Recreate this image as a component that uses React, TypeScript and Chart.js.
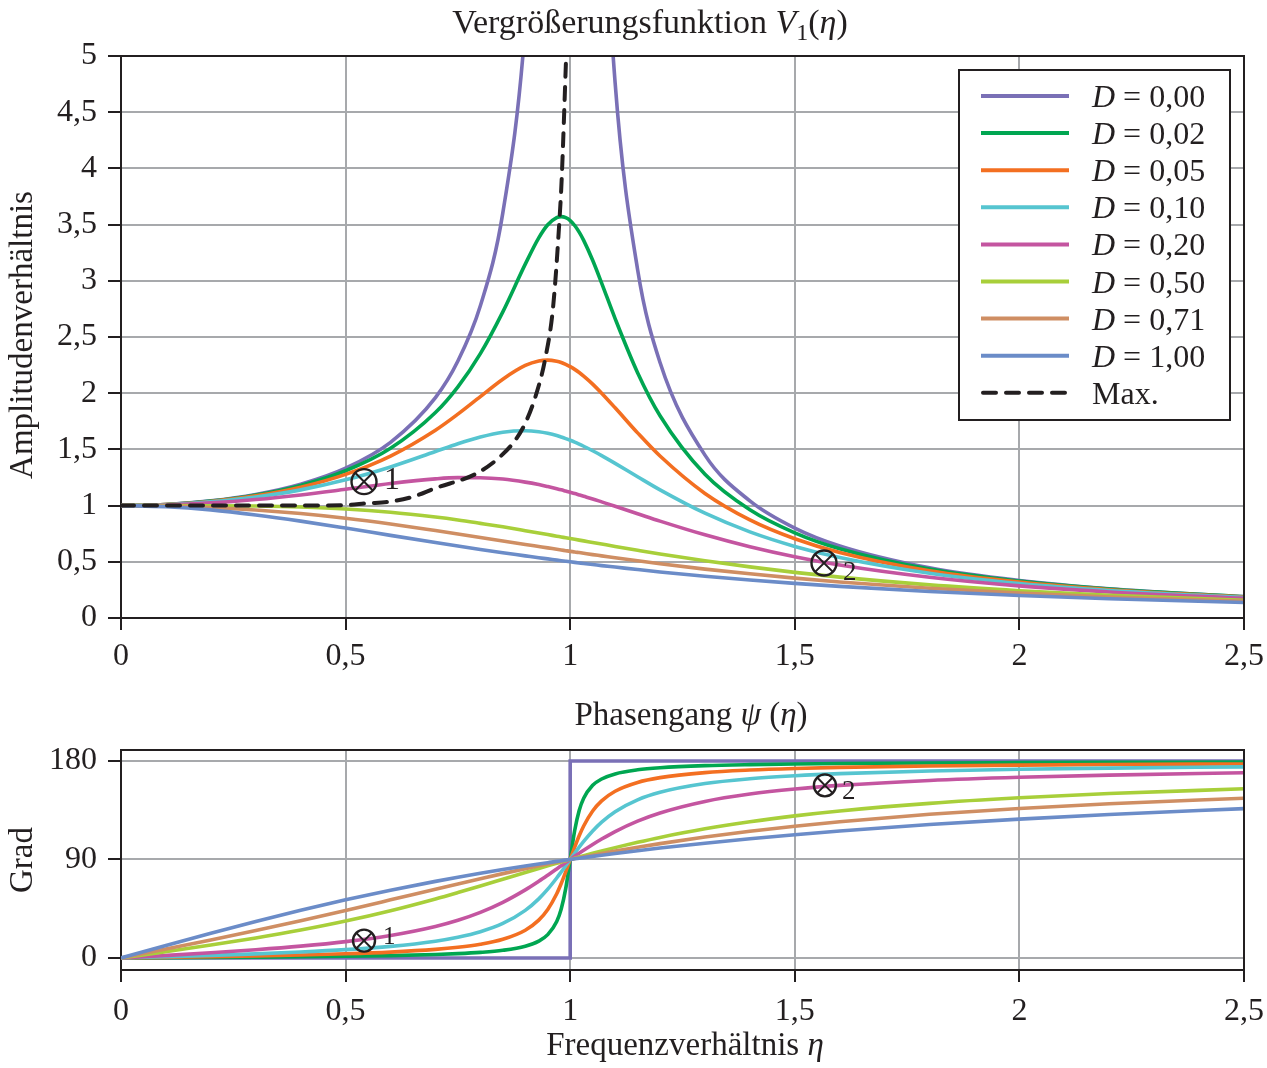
import { useEffect, useRef } from 'react';
import Chart from 'chart.js/auto';

// frequency ratio samples shared by the damped curves
const ETA = [0, 0.1, 0.2, 0.3, 0.4, 0.5, 0.6, 0.7, 0.75, 0.8, 0.85, 0.9, 0.93, 0.95, 0.97, 0.98, 0.99, 1.0, 1.01, 1.02, 1.03, 1.05, 1.07, 1.1, 1.15, 1.2, 1.3, 1.4, 1.5, 1.6, 1.8, 2.0, 2.2, 2.5];

const DAMPING_LABELS = ['0,00', '0,02', '0,05', '0,10', '0,20', '0,50', '0,71', '1,00'];
const COLORS = ['#7a70b6', '#00a651', '#f36f21', '#56c5d0', '#c455a0', '#a8cf3a', '#cf8e63', '#6b8cc8'];

// amplitude ratio V1
const AMP_000 = [1, 1.010, 1.042, 1.099, 1.190, 1.333, 1.563, 1.961, 2.286, 2.778, 3.604, 5.263, 7.402, 10.26, 16.92, 25.25, 50.25, null, 49.75, 24.75, 16.42, 9.756, 6.901, 4.762, 3.101, 2.273, 1.449, 1.042, 0.800, 0.641, 0.446, 0.333, 0.260, 0.190];
const AMP_002 = [1, 1.010, 1.040, 1.094, 1.180, 1.310, 1.510, 1.828, 2.057, 2.352, 2.724, 3.148, 3.382, 3.499, 3.563, 3.571, 3.562, 3.536, 3.492, 3.433, 3.360, 3.183, 2.980, 2.664, 2.183, 1.800, 1.279, 0.963, 0.758, 0.616, 0.435, 0.328, 0.257, 0.189];
const AMP_005 = [1, 1.009, 1.037, 1.087, 1.164, 1.278, 1.441, 1.671, 1.814, 1.970, 2.125, 2.247, 2.287, 2.294, 2.284, 2.273, 2.256, 2.236, 2.212, 2.184, 2.152, 2.081, 2.000, 1.870, 1.647, 1.441, 1.108, 0.873, 0.705, 0.583, 0.420, 0.319, 0.252, 0.186];
const AMP_010 = [1, 1.008, 1.033, 1.076, 1.140, 1.229, 1.344, 1.481, 1.550, 1.610, 1.653, 1.666, 1.657, 1.643, 1.623, 1.610, 1.596, 1.581, 1.565, 1.547, 1.528, 1.488, 1.445, 1.376, 1.257, 1.140, 0.932, 0.766, 0.637, 0.538, 0.398, 0.307, 0.245, 0.182];
const AMP_020 = [1, 1.006, 1.024, 1.054, 1.095, 1.145, 1.197, 1.238, 1.249, 1.248, 1.236, 1.209, 1.187, 1.169, 1.150, 1.140, 1.129, 1.118, 1.107, 1.095, 1.083, 1.059, 1.033, 0.994, 0.928, 0.862, 0.740, 0.634, 0.545, 0.472, 0.363, 0.286, 0.232, 0.175];
const AMP_050 = [1, 1.000, 0.999, 0.996, 0.987, 0.970, 0.941, 0.898, 0.872, 0.842, 0.811, 0.777, 0.756, 0.742, 0.728, 0.721, 0.714, 0.707, 0.700, 0.693, 0.686, 0.672, 0.658, 0.637, 0.603, 0.570, 0.509, 0.455, 0.406, 0.364, 0.295, 0.243, 0.202, 0.158];
const AMP_071 = [1, 0.996, 0.983, 0.961, 0.929, 0.887, 0.836, 0.778, 0.748, 0.717, 0.685, 0.654, 0.636, 0.624, 0.611, 0.605, 0.599, 0.593, 0.588, 0.582, 0.576, 0.564, 0.553, 0.536, 0.509, 0.483, 0.435, 0.393, 0.355, 0.321, 0.265, 0.222, 0.187, 0.149];
const AMP_100 = [1, 0.990, 0.962, 0.917, 0.862, 0.800, 0.735, 0.671, 0.640, 0.610, 0.581, 0.553, 0.536, 0.526, 0.515, 0.510, 0.505, 0.500, 0.495, 0.490, 0.485, 0.476, 0.466, 0.453, 0.431, 0.410, 0.372, 0.338, 0.308, 0.281, 0.236, 0.200, 0.171, 0.138];

// dashed "Max." curve
const MAX_ETA = [0, 0.2, 0.4, 0.5, 0.547, 0.599, 0.651, 0.699, 0.792, 0.844, 0.881, 0.903, 0.925, 0.944, 0.962, 0.977, 0.981, 0.991];
const MAX_AMP = [1.0, 1.0, 1.0, 1.005, 1.02, 1.035, 1.08, 1.154, 1.287, 1.435, 1.6, 1.76, 2.0, 2.3, 2.77, 3.6, 3.9, 5.0];

// phase angle in degrees (lower plot)
const PHASE_000_ETA = [0, 1, 1, 2.5];
const PHASE_000 = [0, 0, 180, 180];
const PHASE_002 = [0, 0.23, 0.48, 0.76, 1.09, 1.53, 2.15, 3.14, 3.92, 5.08, 6.99, 10.73, 15.40, 21.29, 33.29, 44.71, 63.32, 90, 116.45, 134.72, 145.92, 157.72, 163.54, 168.17, 171.88, 173.77, 175.69, 176.66, 177.25, 177.65, 178.16, 178.47, 178.69, 178.91];
const PHASE_005 = [0, 0.58, 1.19, 1.89, 2.73, 3.81, 5.36, 7.82, 9.73, 12.53, 17.03, 25.35, 34.54, 44.26, 58.64, 68.00, 78.64, 90, 101.25, 111.61, 120.59, 134.31, 143.56, 152.35, 160.37, 164.74, 169.33, 171.70, 173.16, 174.14, 175.41, 176.19, 176.72, 177.27];
const PHASE_010 = [0, 1.16, 2.39, 3.77, 5.44, 7.60, 10.62, 15.35, 18.92, 23.96, 31.49, 43.45, 54.00, 62.84, 73.06, 78.58, 84.26, 90, 95.68, 101.20, 106.47, 116.01, 124.10, 133.67, 144.51, 151.39, 159.35, 163.74, 166.50, 168.41, 170.87, 172.41, 173.46, 174.56];
const PHASE_020 = [0, 2.31, 4.76, 7.51, 10.78, 14.93, 20.56, 28.77, 34.44, 41.63, 50.79, 62.18, 70.04, 75.61, 81.34, 84.23, 87.12, 90, 92.85, 95.65, 98.41, 103.71, 108.70, 115.51, 125.04, 132.51, 143.00, 149.74, 154.36, 157.69, 162.18, 165.07, 167.09, 169.22];
const PHASE_050 = [0, 5.77, 11.77, 18.25, 25.46, 33.69, 43.15, 53.92, 59.74, 65.77, 71.92, 78.08, 81.73, 84.14, 86.51, 87.69, 88.85, 90, 91.14, 92.27, 93.38, 95.58, 97.71, 100.81, 105.66, 110.14, 117.96, 124.44, 129.81, 134.28, 141.22, 146.31, 150.19, 154.54];
const PHASE_071 = [0, 8.16, 16.48, 25.09, 34.07, 43.43, 53.09, 62.84, 67.66, 72.42, 77.05, 81.54, 84.16, 85.87, 87.54, 88.37, 89.19, 90, 90.80, 91.60, 92.38, 93.93, 95.45, 97.66, 101.17, 104.48, 110.49, 115.78, 120.41, 124.47, 131.23, 136.57, 140.87, 145.93];
const PHASE_100 = [0, 11.42, 22.62, 33.40, 43.60, 53.13, 61.93, 69.98, 73.74, 77.32, 80.73, 83.97, 85.85, 87.06, 88.26, 88.84, 89.42, 90, 90.57, 91.13, 91.69, 92.79, 93.87, 95.45, 97.98, 100.39, 104.86, 108.92, 112.62, 115.99, 121.89, 126.87, 131.11, 136.40];

const X_TICKS = [0, 0.5, 1, 1.5, 2, 2.5];
const AMP_TICKS = [0, 0.5, 1, 1.5, 2, 2.5, 3, 3.5, 4, 4.5, 5];
const PHASE_TICKS = [0, 90, 180];

// the two marked operating points
const AMP_MARKS = [
  { eta: 0.541, value: 1.213, label: '1' },
  { eta: 1.565, value: 0.489, label: '2' },
];
const PHASE_MARKS = [
  { eta: 0.541, value: 15.8, label: '1' },
  { eta: 1.567, value: 157.7, label: '2' },
];

const FONT = "'Liberation Serif', 'Times New Roman', serif";
const INK = '#231f20';
const GRID = '#a7a9ac';
const W = 1267;
const TOP_H = 690;
const BOT_H = 378;
const LINE_W = 3.6;

type Run = { t: string; italic?: boolean; sub?: boolean };

const runFont = (r: Run, size: number) =>
  `${r.italic ? 'italic ' : ''}${r.sub ? Math.round(size * 0.7) : size}px ${FONT}`;

function drawRuns(ctx: CanvasRenderingContext2D, runs: Run[], x: number, y: number, size: number, align: 'left' | 'center') {
  ctx.save();
  ctx.textBaseline = 'alphabetic';
  ctx.textAlign = 'left';
  ctx.fillStyle = INK;
  const widths = runs.map(r => {
    ctx.font = runFont(r, size);
    return ctx.measureText(r.t).width;
  });
  const total = widths.reduce((a, b) => a + b, 0);
  let cx = align === 'center' ? x - total / 2 : x;
  runs.forEach((r, i) => {
    ctx.font = runFont(r, size);
    ctx.fillText(r.t, cx, r.sub ? y + size * 0.22 : y);
    cx += widths[i];
  });
  ctx.restore();
}

function drawRotated(ctx: CanvasRenderingContext2D, text: string, x: number, y: number, size: number) {
  ctx.save();
  ctx.translate(x, y);
  ctx.rotate(-Math.PI / 2);
  drawRuns(ctx, [{ t: text }], 0, 0, size, 'center');
  ctx.restore();
}

const pts = (xs: number[], ys: (number | null)[]) => xs.map((x, i) => ({ x, y: ys[i] }));
const fmt = (v: number | string) => String(v).replace('.', ',');

function frame(chart: Chart) {
  const { ctx, chartArea: a } = chart;
  ctx.save();
  ctx.strokeStyle = INK;
  ctx.lineWidth = 2;
  ctx.beginPath();
  ctx.moveTo(a.left, a.top);
  ctx.lineTo(a.right, a.top);
  ctx.lineTo(a.right, a.bottom);
  ctx.stroke();
  ctx.restore();
}

type Mark = { eta: number; value: number; label: string };
type MarkStyle = { r: number; size: number; dx: number; dy: number };

function drawMarks(chart: Chart, marks: Mark[], styles: MarkStyle[]) {
  const { ctx, scales } = chart;
  marks.forEach((m, i) => {
    const s = styles[i];
    const cx = scales.x.getPixelForValue(m.eta);
    const cy = scales.y.getPixelForValue(m.value);
    ctx.save();
    ctx.strokeStyle = INK;
    ctx.lineWidth = 2.4;
    ctx.beginPath();
    ctx.arc(cx, cy, s.r, 0, Math.PI * 2);
    ctx.stroke();
    const d = s.r * 0.707;
    ctx.lineWidth = 2;
    ctx.beginPath();
    ctx.moveTo(cx - d, cy - d);
    ctx.lineTo(cx + d, cy + d);
    ctx.moveTo(cx + d, cy - d);
    ctx.lineTo(cx - d, cy + d);
    ctx.stroke();
    ctx.restore();
    drawRuns(ctx, [{ t: m.label }], cx + s.dx, cy + s.dy, s.size, 'left');
  });
}

function drawLegend(ctx: CanvasRenderingContext2D) {
  const bx = 959, by = 70, bw = 271, bh = 350;
  ctx.save();
  ctx.fillStyle = '#ffffff';
  ctx.fillRect(bx, by, bw, bh);
  ctx.strokeStyle = INK;
  ctx.lineWidth = 2;
  ctx.strokeRect(bx, by, bw, bh);
  const rowY = (i: number) => 96 + i * 37.1;
  DAMPING_LABELS.forEach((lab, i) => {
    ctx.strokeStyle = COLORS[i];
    ctx.lineWidth = 4;
    ctx.beginPath();
    ctx.moveTo(981, rowY(i));
    ctx.lineTo(1069, rowY(i));
    ctx.stroke();
    drawRuns(ctx, [{ t: 'D', italic: true }, { t: ' = ' + lab }], 1092, rowY(i) + 11, 32, 'left');
  });
  const my = rowY(DAMPING_LABELS.length);
  ctx.strokeStyle = INK;
  ctx.lineWidth = 4;
  ctx.lineCap = 'round';
  ctx.setLineDash([13, 10]);
  ctx.beginPath();
  ctx.moveTo(983, my);
  ctx.lineTo(1069, my);
  ctx.stroke();
  ctx.restore();
  drawRuns(ctx, [{ t: 'Max.' }], 1092, my + 11, 32, 'left');
}

function scaleX(height: number, tickPad: number) {
  return {
    type: 'linear' as const,
    min: 0,
    max: 2.5,
    afterFit: (s: any) => {
      s.height = height;
      s.paddingLeft = 0;
      s.paddingRight = 0;
    },
    afterBuildTicks: (s: any) => { s.ticks = X_TICKS.map(v => ({ value: v })); },
    grid: { color: GRID, lineWidth: 2, tickColor: INK, tickWidth: 2, tickLength: 12 },
    border: { color: INK, width: 2 },
    ticks: { color: INK, font: { family: FONT, size: 32 }, padding: tickPad, maxRotation: 0, callback: (v: number) => fmt(v) },
  };
}

function scaleY(min: number, max: number, ticks: number[]) {
  return {
    type: 'linear' as const,
    min,
    max,
    afterFit: (s: any) => {
      s.width = 121;
      s.paddingTop = 0;
      s.paddingBottom = 0;
    },
    afterBuildTicks: (s: any) => { s.ticks = ticks.map(v => ({ value: v })); },
    grid: { color: GRID, lineWidth: 2, tickColor: INK, tickWidth: 2, tickLength: 13 },
    border: { color: INK, width: 2 },
    ticks: { color: INK, font: { family: FONT, size: 32 }, padding: 11, callback: (v: number) => fmt(v) },
  };
}

const baseOptions = (top: number, x: any, y: any) => ({
  animation: false as const,
  responsive: true,
  maintainAspectRatio: false,
  layout: { padding: { top, right: 23, left: 0, bottom: 0 } },
  plugins: { legend: { display: false }, tooltip: { enabled: false }, title: { display: false } },
  elements: { point: { radius: 0 }, line: { capBezierPoints: false } },
  scales: { x, y },
});

export default function App() {
  const topRef = useRef<HTMLCanvasElement>(null);
  const botRef = useRef<HTMLCanvasElement>(null);

  useEffect(() => {
    if (!topRef.current || !botRef.current) return;

    const amps = [AMP_000, AMP_002, AMP_005, AMP_010, AMP_020, AMP_050, AMP_071, AMP_100];
    const phases = [PHASE_002, PHASE_005, PHASE_010, PHASE_020, PHASE_050, PHASE_071, PHASE_100];

    const ampSets: any[] = amps.map((a, i) => ({
      data: pts(ETA, a),
      borderColor: COLORS[i],
      borderWidth: LINE_W,
      cubicInterpolationMode: 'monotone',
      spanGaps: false,
      order: -i,
    }));
    ampSets.push({
      data: pts(MAX_ETA, MAX_AMP),
      borderColor: INK,
      borderWidth: 4,
      borderDash: [13, 10],
      borderCapStyle: 'round',
      cubicInterpolationMode: 'monotone',
      order: -100,
    });

    const phaseSets: any[] = [{
      data: pts(PHASE_000_ETA, PHASE_000),
      borderColor: COLORS[0],
      borderWidth: LINE_W,
      tension: 0,
      order: 0,
    }];
    phases.forEach((p, i) => phaseSets.push({
      data: pts(ETA, p),
      borderColor: COLORS[i + 1],
      borderWidth: LINE_W,
      cubicInterpolationMode: 'monotone',
      order: -(i + 1),
    }));

    const topChart = new Chart(topRef.current, {
      type: 'line',
      data: { datasets: ampSets },
      options: baseOptions(56, scaleX(TOP_H - 618, 7), scaleY(0, 5, AMP_TICKS)) as any,
      plugins: [{
        id: 'topDecor',
        afterDraw: (chart: Chart) => {
          frame(chart);
          drawLegend(chart.ctx);
          drawMarks(chart, AMP_MARKS, [
            { r: 12.5, size: 32, dx: 20, dy: 7 },
            { r: 12.5, size: 27, dx: 19, dy: 17 },
          ]);
          drawRuns(chart.ctx, [
            { t: 'Vergrößerungsfunktion ' },
            { t: 'V', italic: true },
            { t: '1', sub: true },
            { t: '(' },
            { t: 'η', italic: true },
            { t: ')' },
          ], 650, 33, 34, 'center');
          drawRotated(chart.ctx, 'Amplitudenverhältnis', 32, 335, 33);
        },
      }],
    });

    const botChart = new Chart(botRef.current, {
      type: 'line',
      data: { datasets: phaseSets },
      options: baseOptions(60, scaleX(BOT_H - 280, 10), scaleY(-11, 190, PHASE_TICKS)) as any,
      plugins: [{
        id: 'botDecor',
        afterDraw: (chart: Chart) => {
          frame(chart);
          drawMarks(chart, PHASE_MARKS, [
            { r: 11, size: 25, dx: 19, dy: 3 },
            { r: 11, size: 27, dx: 17, dy: 14 },
          ]);
          drawRuns(chart.ctx, [
            { t: 'Phasengang ' },
            { t: 'ψ', italic: true },
            { t: ' (' },
            { t: 'η', italic: true },
            { t: ')' },
          ], 691, 35, 33, 'center');
          drawRuns(chart.ctx, [
            { t: 'Frequenzverhältnis ' },
            { t: 'η', italic: true },
          ], 685, 365, 33, 'center');
          drawRotated(chart.ctx, 'Grad', 32, 170, 33);
        },
      }],
    });

    return () => {
      topChart.destroy();
      botChart.destroy();
    };
  }, []);

  return (
    <div style={{ position: 'absolute', left: 0, top: 0, width: W, height: TOP_H + BOT_H, background: '#ffffff' }}>
      <div style={{ position: 'absolute', left: 0, top: 0, width: W, height: TOP_H }}>
        <canvas ref={topRef} />
      </div>
      <div style={{ position: 'absolute', left: 0, top: TOP_H, width: W, height: BOT_H }}>
        <canvas ref={botRef} />
      </div>
    </div>
  );
}
